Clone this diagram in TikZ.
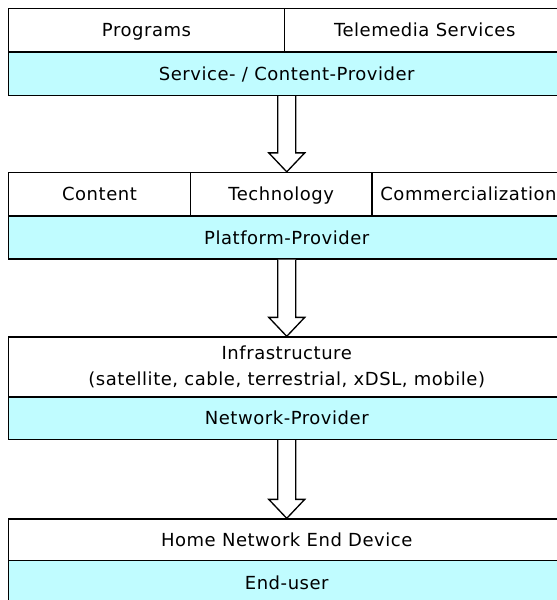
\documentclass[tikz,border=0pt]{standalone}
\usepackage{fontspec}
\setmainfont{DejaVu Sans}[LetterSpace=3.0]
\usetikzlibrary{calc}

\definecolor{provcyan}{RGB}{192,252,255}

\tikzset{every picture/.style={line width=0.75pt}}
\tikzset{
  cellbox/.style={draw=black, line width=1pt, fill=white, inner sep=0pt, align=center,
    font=\fontsize{13.5}{19.5}\selectfont},
  cell/.style={cellbox, text height=9.8pt, text depth=0pt},
  provider/.style={cell, fill=provcyan},
  blockarrow/.style={draw=black, line width=1pt, fill=white, to path={
    ($(\tikztostart)+(-9,0)$) -- ($(\tikztostart |- \tikztotarget)+(-9,-19)$)
    -- ($(\tikztostart |- \tikztotarget)+(-18,-19)$) -- (\tikztostart |- \tikztotarget)
    -- ($(\tikztostart |- \tikztotarget)+(18,-19)$) -- ($(\tikztostart |- \tikztotarget)+(9,-19)$)
    -- ($(\tikztostart)+(9,0)$)}}
}

\begin{document}
\begin{tikzpicture}[x=0.75pt,y=0.75pt,yscale=-1,xscale=1]
        %set diagram to 557 x 600, boxes run off the right and bottom edges
        \clip (0,0) rectangle (557,600);

        % Service- / Content-Provider
        \node [cell, minimum width={276*0.75pt}, minimum height={43.5*0.75pt}] (prog) at (146.5,30.25) {Programs};
        \node [cell, minimum width={280.5*0.75pt}, minimum height={43.5*0.75pt}] (tele) at (424.75,30.25) {Telemedia Services};
        \node [provider, minimum width={556.5*0.75pt}, minimum height={43.5*0.75pt}] (scp) at (286.75,73.75) {Service- / Content-Provider};

        % Platform-Provider
        \node [cell, minimum width={182*0.75pt}, minimum height={43.5*0.75pt}] (cont) at (99.5,194.25) {Content};
        \node [cell, minimum width={181.5*0.75pt}, minimum height={43.5*0.75pt}] (tech) at (281.25,194.25) {Technology};
        \node [cell, minimum width={193*0.75pt}, minimum height={43.5*0.75pt}] (comm) at (468.5,194.25) {Commercialization};
        \node [provider, minimum width={556.5*0.75pt}, minimum height={43*0.75pt}] (plat) at (286.75,237.5) {Platform-Provider};

        % Network-Provider
        \node [cellbox, minimum width={556.5*0.75pt}, minimum height={60*0.75pt}] (infra) at (286.75,367) {Infrastructure\\(satellite, cable, terrestrial, xDSL, mobile)};
        \node [provider, minimum width={556.5*0.75pt}, minimum height={42.5*0.75pt}] (net) at (286.75,418.25) {Network-Provider};

        % End-user
        \node [cell, minimum width={556.5*0.75pt}, minimum height={41.5*0.75pt}] (home) at (286.75,539.75) {Home Network End Device};
        \node [provider, minimum width={556.5*0.75pt}, minimum height={45.5*0.75pt}] (endu) at (286.75,583.25) {End-user};

        % Hollow arrows
        \draw [blockarrow] (scp.south) to (tech.north);
        \draw [blockarrow] (plat.south) to (infra.north);
        \draw [blockarrow] (net.south) to (home.north);

\end{tikzpicture}
\end{document}
